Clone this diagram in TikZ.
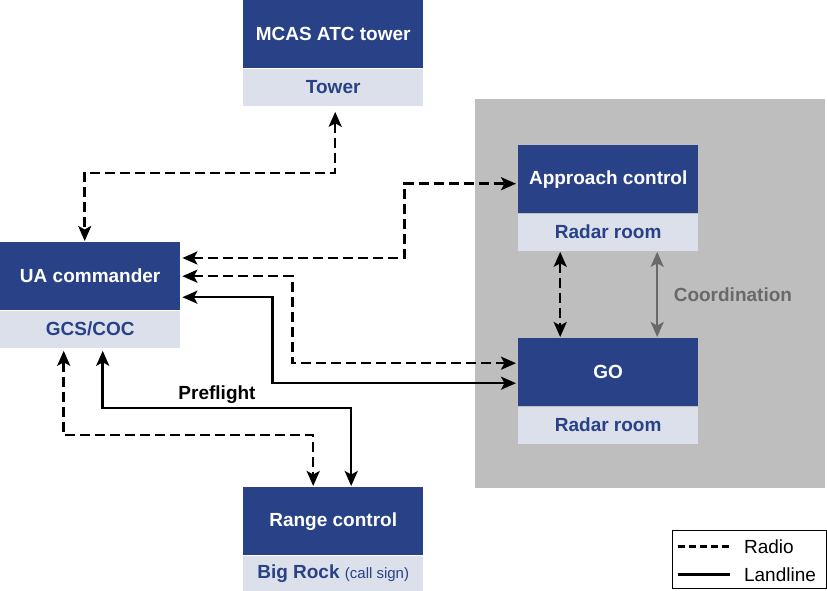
\documentclass[tikz,border=0pt]{standalone}
\usepackage{fontspec}
\setmainfont{Liberation Sans}
\usetikzlibrary{positioning,arrows.meta}

\definecolor{boxblue}{RGB}{40,65,135}
\definecolor{boxlight}{RGB}{220,224,234}
\definecolor{roomgray}{RGB}{190,190,190}
\definecolor{coordgray}{RGB}{105,105,105}

\begin{document}
\begin{tikzpicture}[x=1pt,y=-1pt,node distance=0pt,
    font=\fontsize{19}{22}\selectfont,
    >={Stealth[length=15pt,width=13pt,inset=3.5pt]},
    unitbox/.style={fill=boxblue,text=white,font=\bfseries\fontsize{19}{22}\selectfont,
      minimum width=180pt,minimum height=68pt,inner sep=0pt,anchor=north west},
    subbox/.style={fill=boxlight,text=boxblue,font=\bfseries\fontsize{19}{22}\selectfont,
      minimum width=180pt,minimum height=37pt,inner sep=0pt},
    radio/.style={line width=2.5pt,dash pattern=on 10pt off 5pt},
    land/.style={line width=2.5pt}]
      \useasboundingbox (0,0) rectangle (827,591);
      \node[fill=roomgray,minimum width=350pt,minimum height=389pt,inner sep=0pt,anchor=north west](radar) at (475,99){};
      \node[unitbox](tower) at (243,0){MCAS ATC tower};
      \node[subbox,below=of tower](towersub){Tower};
      \node[unitbox](ua) at (0,242){UA commander};
      \node[subbox,below=of ua](uasub){GCS/COC};
      \node[unitbox](range) at (243,487){Range control};
      \node[subbox,below=of range](rangesub){Big Rock {\mdseries\fontsize{15}{18}\selectfont(call sign)}};
      \node[unitbox](appr) at (518,145){Approach control};
      \node[subbox,below=of appr](apprsub){Radar room};
      \node[unitbox](go) at (518,338){GO};
      \node[subbox,below=of go](gosub){Radar room};
      % radio and landline links
      \draw[radio,<->] ([xshift=2pt,yshift=-6pt]towersub.south) -- ++(0,61) -| ([xshift=-5.5pt,yshift=1pt]ua.north);
      \draw[radio,<->] ([xshift=2pt,yshift=-16pt]ua.north east) -- ++(222,0) |- ([xshift=-2pt,yshift=-4.5pt]appr.west);
      \draw[radio,<->] ([xshift=2pt]ua.east) -- ++(110,0) |- ([xshift=-2pt,yshift=9pt]go.west);
      \draw[land,<->] ([xshift=2pt,yshift=-21pt]ua.east) -- ++(90,0) |- ([xshift=-2pt,yshift=-11pt]go.west);
      \draw[land,<->] ([xshift=12.5pt,yshift=-3pt]uasub.south) -- ++(0,57)
        -| node[pos=0.23,above,font=\bfseries\fontsize{19}{22}\selectfont]{Preflight} ([xshift=18pt,yshift=1pt]range.north);
      \draw[radio,<->] ([xshift=-26.5pt,yshift=-3pt]uasub.south) -- ++(0,84) -| ([xshift=-20pt,yshift=1pt]range.north);
      \draw[radio,<->] ([xshift=-48pt,yshift=-1pt]apprsub.south) -- ([xshift=-48pt,yshift=1pt]go.north);
      \draw[land,<->,coordgray] ([xshift=49pt,yshift=-1pt]apprsub.south) -- node[right=12pt,text=coordgray,font=\bfseries\fontsize{19}{22}\selectfont]{Coordination} ([xshift=49pt,yshift=1pt]go.north);
      % legend
      \node[draw,line width=1.5pt,minimum width=154pt,minimum height=58pt,inner sep=0pt,anchor=north west](legend) at (671.5,529.5){};
      \draw[radio,dash pattern=on 7pt off 4pt] ([xshift=6pt,yshift=-17pt]legend.north west) -- ++(52,0) node[right=10pt]{Radio};
      \draw[land] ([xshift=6pt,yshift=-45pt]legend.north west) -- ++(52,0) node[right=10pt]{Landline};
    \end{tikzpicture}
\end{document}
